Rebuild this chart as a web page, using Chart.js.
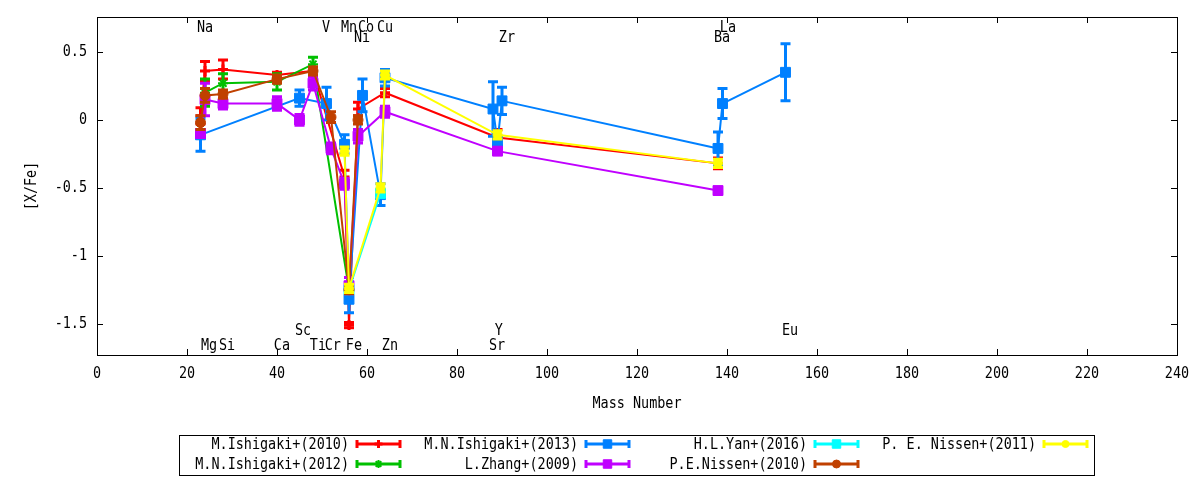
<!DOCTYPE html>
<html>
<head>
<meta charset="utf-8">
<script src="https://cdn.jsdelivr.net/npm/chart.js@4.4.1/dist/chart.umd.min.js"></script>
<style>
  html, body { margin: 0; padding: 0; background: #fff; }
  #wrap { width: 1200px; height: 480px; }
</style>
</head>
<body>
<div id="wrap"><canvas id="grafico" width="1200" height="480"></canvas></div>
<script>
// Datos: [numero de masa, [X/Fe], error]
var ishigaki2010 = [[23, 0.03, 0.06], [24, 0.36, 0.07], [28, 0.37, 0.07], [40, 0.33, 0.02], [48, 0.36, 0.03],
                    [55, -0.42, 0.05], [56, -1.51, 0.02], [58, 0.08, 0.05], [64, 0.2, 0.03], [89, -0.13, 0.06],
                    [138, -0.32, 0.04]];
var ishigaki2012 = [[24, 0.2, 0.1], [28, 0.27, 0.07], [40, 0.28, 0.06], [48, 0.41, 0.05], [56, -1.25, 0.05]];
var ishigaki2013 = [[23, -0.11, 0.12], [45, 0.16, 0.06], [51, 0.12, 0.12], [55, -0.18, 0.07], [56, -1.32, 0.1],
                    [59, 0.18, 0.12], [63, -0.55, 0.08], [64, 0.31, 0.06], [88, 0.08, 0.2], [89, -0.16, 0.04],
                    [90, 0.14, 0.1], [138, -0.21, 0.12], [139, 0.12, 0.11], [153, 0.35, 0.21]];
var zhang2009 = [[23, -0.1, 0.03], [24, 0.15, 0.12], [28, 0.12, 0.04], [40, 0.12, 0.05], [45, 0.0, 0.04],
                 [48, 0.27, 0.05], [52, -0.21, 0.04], [55, -0.47, 0.04], [56, -1.22, 0.06], [58, -0.12, 0.05],
                 [64, 0.06, 0.04], [89, -0.23, 0.02], [138, -0.52, 0.02]];
var yan2016 = [[56, -1.25, 0.02], [63, -0.54, 0.03]];
var nissen2010 = [[23, -0.02, 0.05], [24, 0.18, 0.05], [28, 0.19, 0.03], [40, 0.3, 0.03], [48, 0.36, 0.03],
                  [52, 0.02, 0.04], [56, -1.25, 0.03], [58, 0.0, 0.03]];
var nissen2011 = [[55, -0.23, 0.03], [56, -1.24, 0.03], [63, -0.5, 0.03], [64, 0.33, 0.03], [89, -0.11, 0.03],
                  [138, -0.32, 0.03]];

var xTicks = [0, 20, 40, 60, 80, 100, 120, 140, 160, 180, 200, 220, 240];
var yTicks = [-1.5, -1, -0.5, 0, 0.5];

// Etiquetas de elementos (posicion en numero de masa y fila)
var elementos  = ['Na', 'Mg', 'Si', 'Ca', 'Sc', 'Ti', 'V', 'Cr', 'Mn', 'Fe', 'Co', 'Ni', 'Cu', 'Zn', 'Sr', 'Y', 'Zr', 'Ba', 'La', 'Eu'];
var elementosX = [24.0, 24.9, 28.9, 41.1, 45.8, 49.1, 50.9, 52.4, 56.0, 57.1, 59.8, 58.9, 64.0, 65.1, 88.9, 89.3, 91.1, 138.9, 140.2, 154.0];
var elementosFila = [0, 3, 3, 3, 2, 3, 0, 3, 0, 3, 0, 1, 0, 3, 3, 2, 1, 1, 0, 2];

var FUENTE = '16px "DejaVu Sans Mono", monospace';

// Texto estrecho, como el de gnuplot
function texto(ctx, str, x, y, alinear, girar) {
    ctx.save();
    ctx.translate(x, y);
    if (girar) ctx.rotate(-Math.PI / 2);
    ctx.scale(0.84, 1);
    ctx.font = FUENTE;
    ctx.fillStyle = '#000';
    ctx.textAlign = alinear;
    ctx.textBaseline = 'middle';
    ctx.fillText(str, 0, 0);
    ctx.restore();
}

function serie(nombre, puntos, color, estilo, radio, borde, orden) {
    return {
        label: nombre,
        data: puntos.map(function (p) { return { x: p[0], y: p[1], err: p[2] }; }),
        showLine: true,
        borderColor: color,
        backgroundColor: color,
        borderWidth: 2,
        pointStyle: estilo,
        pointRadius: radio,
        pointBorderWidth: borde,
        pointBorderColor: color,
        pointBackgroundColor: color,
        order: orden
    };
}

// Barras de error, dibujadas justo antes de cada serie
var barrasError = {
    id: 'barrasError',
    beforeDatasetDraw: function (chart, args) {
        var ctx = chart.ctx, area = chart.chartArea, y = chart.scales.y;
        var ds = chart.data.datasets[args.index];
        ctx.save();
        ctx.beginPath();
        ctx.rect(area.left, area.top, area.right - area.left, area.bottom - area.top);
        ctx.clip();
        ctx.strokeStyle = ds.borderColor;
        ctx.lineWidth = 3;
        args.meta.data.forEach(function (el, i) {
            var p = ds.data[i];
            var arriba = y.getPixelForValue(p.y + p.err);
            var abajo = y.getPixelForValue(p.y - p.err);
            ctx.beginPath();
            ctx.moveTo(el.x, arriba); ctx.lineTo(el.x, abajo);
            ctx.moveTo(el.x - 5, arriba); ctx.lineTo(el.x + 5, arriba);
            ctx.moveTo(el.x - 5, abajo); ctx.lineTo(el.x + 5, abajo);
            ctx.stroke();
        });
        ctx.restore();
    }
};

// Marco, marcas hacia dentro, textos de ejes, etiquetas de elementos y leyenda
var decoracion = {
    id: 'decoracion',
    afterDraw: function (chart) {
        var ctx = chart.ctx, a = chart.chartArea, sx = chart.scales.x, sy = chart.scales.y;
        ctx.save();
        ctx.strokeStyle = '#000';
        ctx.lineWidth = 1;
        ctx.strokeRect(a.left + 0.5, a.top + 0.5, a.right - a.left, a.bottom - a.top);
        ctx.beginPath();
        xTicks.forEach(function (v) {
            var px = Math.round(sx.getPixelForValue(v)) + 0.5;
            ctx.moveTo(px, a.bottom); ctx.lineTo(px, a.bottom - 6);
            ctx.moveTo(px, a.top); ctx.lineTo(px, a.top + 6);
        });
        yTicks.forEach(function (v) {
            var py = Math.round(sy.getPixelForValue(v)) + 0.5;
            ctx.moveTo(a.left, py); ctx.lineTo(a.left + 6, py);
            ctx.moveTo(a.right, py); ctx.lineTo(a.right - 6, py);
        });
        ctx.stroke();

        // rotulos de las marcas y titulos de ejes
        xTicks.forEach(function (v) { texto(ctx, String(v), sx.getPixelForValue(v), a.bottom + 19, 'center'); });
        yTicks.forEach(function (v) { texto(ctx, String(v), a.left - 10, sy.getPixelForValue(v), 'right'); });
        texto(ctx, 'Mass Number', (a.left + a.right) / 2, 404, 'center');
        texto(ctx, '[X/Fe]', 32, (a.top + a.bottom) / 2, 'center', true);

        // etiquetas de elementos
        var filas = [0.68, 0.605, -1.555, -1.66];
        elementos.forEach(function (nom, i) {
            texto(ctx, nom, sx.getPixelForValue(elementosX[i]), sy.getPixelForValue(filas[elementosFila[i]]), 'center');
        });

        // leyenda
        ctx.strokeStyle = '#000';
        ctx.lineWidth = 1;
        ctx.strokeRect(179.5, 435.5, 915, 40);
        chart.data.datasets.forEach(function (ds, i) {
            var col = Math.floor(i / 2), fila = i % 2;
            var xt = 349 + col * 229, yt = 444 + fila * 20;
            texto(ctx, ds.label, xt, yt + 1, 'right');
            var x0 = xt + 8, x1 = xt + 51;
            ctx.strokeStyle = ds.borderColor;
            ctx.lineWidth = 3;
            ctx.beginPath();
            ctx.moveTo(x0, yt); ctx.lineTo(x1, yt);
            ctx.moveTo(x0, yt - 4); ctx.lineTo(x0, yt + 4);
            ctx.moveTo(x1, yt - 4); ctx.lineTo(x1, yt + 4);
            ctx.stroke();
            ctx.fillStyle = ds.backgroundColor;
            ctx.lineWidth = ds.pointBorderWidth;
            Chart.helpers.drawPoint(ctx, {
                pointStyle: ds.pointStyle, radius: ds.pointRadius - 1,
                borderWidth: ds.pointBorderWidth, rotation: 0
            }, (x0 + x1) / 2, yt);
        });
        ctx.restore();
    }
};

var datos = {
    datasets: [
        serie('M.Ishigaki+(2010)', ishigaki2010, '#ff0000', 'cross', 5, 3, 6),
        serie('M.N.Ishigaki+(2012)', ishigaki2012, '#00c000', 'star', 5, 2, 5),
        serie('M.N.Ishigaki+(2013)', ishigaki2013, '#0080ff', 'rect', 7, 1, 4),
        serie('L.Zhang+(2009)', zhang2009, '#c000ff', 'rect', 7, 1, 3),
        serie('H.L.Yan+(2016)', yan2016, '#00ffff', 'rect', 7, 1, 2),
        serie('P.E.Nissen+(2010)', nissen2010, '#c04000', 'circle', 5, 1, 1),
        serie('P. E. Nissen+(2011)', nissen2011, '#ffff00', 'circle', 4.5, 1, 0)
    ]
};

var grafico = new Chart(document.getElementById('grafico').getContext('2d'), {
    type: 'scatter',
    data: datos,
    plugins: [barrasError, decoracion],
    options: {
        responsive: false,
        devicePixelRatio: 1,
        animation: false,
        layout: { padding: { left: 0, right: 23, top: 17, bottom: 0 } },
        plugins: { legend: { display: false }, tooltip: { enabled: false } },
        scales: {
            x: {
                type: 'linear',
                min: 0, max: 240,
                grid: { display: false, drawTicks: false },
                border: { display: false },
                afterBuildTicks: function (eje) { eje.ticks = xTicks.map(function (v) { return { value: v }; }); },
                afterFit: function (eje) { eje.height = 125; },
                ticks: { display: false }
            },
            y: {
                type: 'linear',
                min: -1.73, max: 0.757,
                grid: { display: false, drawTicks: false },
                border: { display: false },
                afterBuildTicks: function (eje) { eje.ticks = yTicks.map(function (v) { return { value: v }; }); },
                afterFit: function (eje) { eje.width = 97; },
                ticks: { display: false }
            }
        }
    }
});
</script>
</body>
</html>
